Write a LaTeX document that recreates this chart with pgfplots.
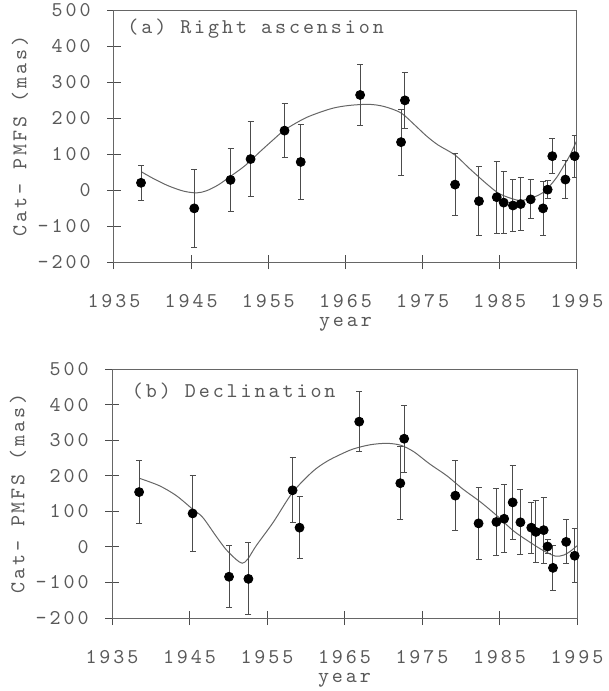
\documentclass[border=0pt]{standalone}
\usepackage{fontspec}
\setmainfont{Latin Modern Mono}[LetterSpace=14]
\usepackage{pgfplots}
\usepackage{pgfplotstable}
\pgfplotsset{compat=1.18}

\pgfplotstableread{
x y e
1938.5 20 49
1945.4 -51 108
1950.1 28 88
1952.7 86 104
1957.1 165 74
1959.2 78 104
1966.9 264 85
1972.2 133 92
1972.7 249 78
1979.2 15 86
1982.3 -31 95
1984.6 -20 100
1985.5 -35 86
1986.7 -43 73
1987.7 -39 73
1989.0 -26 54
1990.6 -51 76
1991.2 1 25
1991.8 94 48
1993.5 29 52
1994.7 94 58
}\RAdata

\pgfplotstableread{
x y
1938.6 50
1940 33
1942 12
1944 -3
1945.7 -8
1947 -2
1948.5 14
1950.1 38
1952 68
1953.9 106
1955.5 137
1957 165
1958.5 185
1960 202
1961.7 216
1963.5 228
1965.5 235
1968 238
1970 232
1972.2 214
1974 180
1975.5 150
1977 125
1979.2 97
1981.1 59
1983.3 17
1985 -11
1987.2 -28
1988.1 -28
1989.3 -21
1990.6 -7
1991.5 12
1992.4 36
1993.2 64
1994.1 97
1995 139
}\RAfit

\pgfplotstableread{
x y e
1938.5 154 88
1945.4 94 108
1950.1 -84 87
1952.6 -90 101
1958.3 159 91
1959.2 54 88
1966.9 352 85
1972.2 179 103
1972.7 304 94
1979.3 144 98
1982.3 66 102
1984.6 70 93
1985.6 79 95
1986.7 125 104
1987.7 69 91
1989.1 54 72
1989.7 42 87
1990.7 47 93
1991.2 1 20
1991.9 -59 64
1993.6 14 62
1994.7 -25 76
}\DEdata

\pgfplotstableread{
x y
1938.5 193
1941.1 172
1943.3 144
1945.4 106
1946.7 83
1948.4 31
1949.7 -7
1951.0 -35
1951.8 -46
1952.5 -35
1953.6 3
1955.8 69
1958.3 153
1960.9 212
1962.7 240
1964.4 259
1966.1 275
1968.3 287
1970.4 291
1972.2 286
1973.9 268
1976.0 233
1978.2 200
1980.3 162
1982.5 127
1984.7 87
1986.8 45
1989.0 12
1990.7 -11
1992.2 -26
1993.3 -23
1994.1 -13
1995.0 3
}\DEfit

\pgfplotsset{
 chartstyle/.style={
  scale only axis, xmin=1935, xmax=1995, ymin=-200, ymax=500,
  xtick={1935,1945,1955,1965,1975,1985,1995},
  xticklabels={1935,1945,1955,1965,1975,1985,1995},
  ytick={-200,-100,0,100,200,300,400,500},
  yticklabels={-200,-100,0,100,200,300,400,500},
  tick pos=left, tick align=center, major tick length=7pt,
  tick style={black!70, line width=0.5pt},
  axis line style={black!60, line width=0.5pt},
  font=\fontsize{10.5pt}{12pt}\selectfont,
  every tick label/.append style={text=black!65, inner sep=0pt},
  xticklabel style={anchor=center, yshift=-16pt},
  yticklabel style={anchor=east, xshift=-8pt},
  xlabel={year},
  xlabel style={at={([yshift=-31pt]axis description cs:0.5,0)}, anchor=center, inner sep=0pt, text=black!65},
  ylabel={Cat- PMFS (mas)},
  ylabel style={at={([xshift=-47pt]axis description cs:0,0.5)}, anchor=center, text=black!65},
 },
 pts/.style={only marks, mark=*, mark size=2.25pt, black,
  error bars/.cd, y dir=both, y explicit,
  error bar style={black!70, line width=0.5pt},
  error mark options={rotate=90, mark size=1.5pt, black!70, line width=0.5pt}},
 fit/.style={no marks, smooth, black!60, line width=0.5pt},
}

\begin{document}
\begin{tikzpicture}
\path[use as bounding box] (0,0) rectangle (304.5pt,-345.5pt);
\begin{axis}[chartstyle, at={(57pt,-131pt)}, anchor=south west, width=231.5pt, height=126pt]
\addplot[fit] table[x=x,y=y] {\RAfit};
\addplot[pts] table[x=x,y=y,y error=e] {\RAdata};
\node[anchor=west, inner sep=0pt, text=black!65] at (rel axis cs:0.028,0.925) {(a) Right ascension};
\end{axis}
\begin{axis}[chartstyle, at={(56pt,-309pt)}, anchor=south west, width=232.5pt, height=124.5pt]
\addplot[fit] table[x=x,y=y] {\DEfit};
\addplot[pts] table[x=x,y=y,y error=e] {\DEdata};
\node[anchor=west, inner sep=0pt, text=black!65] at (rel axis cs:0.042,0.91) {(b) Declination};
\end{axis}
\end{tikzpicture}
\end{document}
